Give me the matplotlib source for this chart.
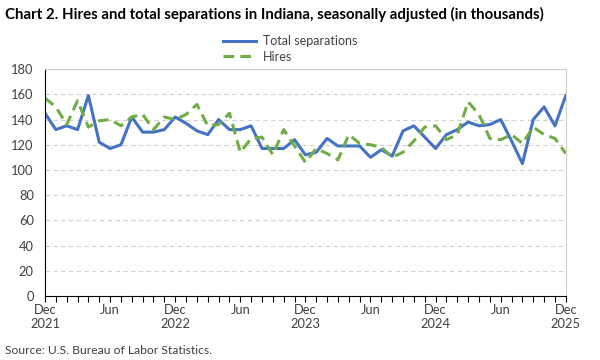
import matplotlib.pyplot as plt
import numpy as np

# monthly, Dec 2021 .. Dec 2025
months = ['Dec', 'Jan', 'Feb', 'Mar', 'Apr', 'May', 'Jun', 'Jul', 'Aug', 'Sep', 'Oct', 'Nov'] * 4 + ['Dec']
years = [2021] + [y for y in (2022, 2023, 2024, 2025) for _ in range(12)]

separations = [145, 132, 135, 132, 159, 122, 117, 120, 142, 130, 130, 132,
               142, 137, 131, 128, 140, 132, 132, 135, 117, 117, 117, 124,
               112, 114, 125, 119, 119, 119, 110, 116, 111, 131, 135, 126,
               117, 128, 132, 138, 135, 136, 140, 123, 105, 140, 150, 135, 159]
hires = [157, 150, 136, 155, 134, 139, 140, 135, 142, 144, 132, 142,
         140, 144, 152, 135, 136, 145, 114, 125, 126, 112, 132, 119,
         106, 117, 113, 108, 128, 121, 120, 118, 110, 114, 123, 134,
         135, 124, 128, 154, 144, 125, 124, 128, 121, 134, 128, 125, 113]

plt.rcParams['font.family'] = ['Lato', 'DejaVu Sans']

fig = plt.figure(figsize=(6, 3.6), dpi=100)
ax = fig.add_axes([0.075, 0.178, 0.868, 0.630])

x = np.arange(len(months))
ax.plot(x, separations, color='#4472C4', lw=2.2, label='Total separations', solid_joinstyle='round')
ax.plot(x, hires, color='#70AD47', lw=2.2, ls=(0, (3.5, 2)), label='Hires')

ax.set_xlim(0, len(months) - 1)
ax.set_ylim(0, 180)
ax.set_yticks(range(0, 181, 20))
ax.yaxis.grid(True, color='#d0d0d0', ls=(0, (4, 3)), lw=0.8)
ax.set_axisbelow(True)

# a tick every month, labels every six months
ax.set_xticks(x, minor=True)
major = [i for i in x if i % 6 == 0]
ax.set_xticks(major)
ax.set_xticklabels([months[i] + ('\n' + str(years[i]) if months[i] == 'Dec' else '') for i in major])
ax.tick_params(axis='x', which='both', length=4, width=0.8, color='black', pad=2)
ax.tick_params(axis='y', length=0, pad=8)
ax.tick_params(labelsize=9.3, labelcolor='#404040')

for s in ('top', 'right'):
    ax.spines[s].set_color('#d0d0d0')
ax.spines['left'].set_color('black')
ax.spines['bottom'].set_color('black')

fig.text(0.008, 0.96, 'Chart 2. Hires and total separations in Indiana, seasonally adjusted (in thousands)',
         fontsize=10.8, fontweight='bold', va='center')
ax.legend(loc='lower center', bbox_to_anchor=(0.47, 1.0), frameon=False, fontsize=9,
          handlelength=2.7, labelspacing=0.3, borderaxespad=0.1, handletextpad=0.5,
          labelcolor='#404040')
fig.text(0.008, 0.025, 'Source: U.S. Bureau of Labor Statistics.', fontsize=8.75, color='#404040', va='center')

fig.savefig('out.png')
